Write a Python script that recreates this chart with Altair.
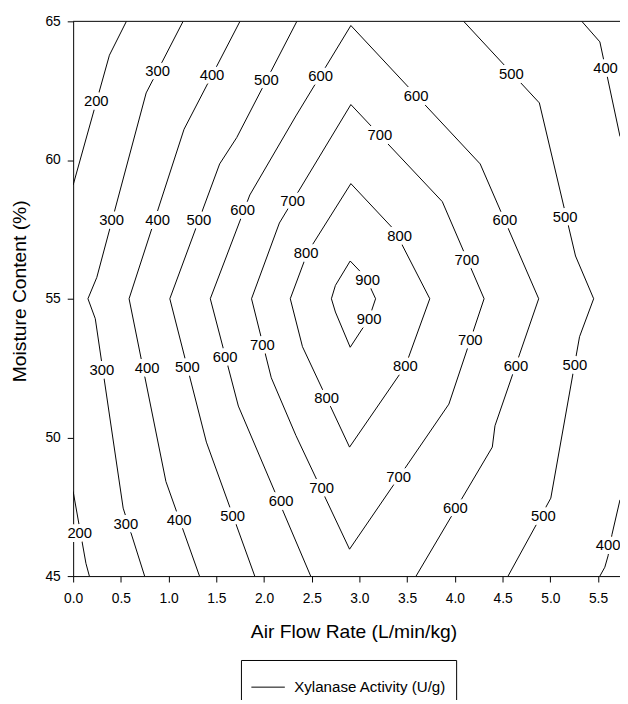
import altair as alt
import pandas as pd

FONT = "Liberation Sans"
SERIES = "Xylanase Activity (U/g)"

# ---- contour polylines (x = air flow rate, y = moisture content) ----
c200a_x = [0.558, 0.380, 0.0]
c200a_y = [65.0, 63.78, 59.1]
c200b_x = [0.0, 0.134, 0.170]
c200b_y = [48.05, 45.46, 45.0]
c300_x = [1.152, 0.765, 0.248, 0.155, 0.232, 0.524, 0.749]
c300_y = [65.0, 62.42, 55.77, 55.0, 54.28, 47.45, 45.0]
c400_x = [1.748, 1.162, 0.586, 0.972, 1.324]
c400_y = [65.0, 61.11, 55.0, 48.41, 45.0]
c500_x = [2.344, 1.714, 1.535, 1.013, 1.396, 1.903]
c500_y = [65.0, 60.81, 59.86, 55.0, 49.83, 45.0]
c600_x = [2.489, 1.731, 1.437, 1.851, 2.334, 2.910, 4.265, 4.878, 4.420, 4.392, 3.593]
c600_y = [45.0, 51.13, 55.0, 58.74, 61.59, 64.85, 59.86, 55.0, 50.42, 49.65, 45.0]
c700_x = [2.910, 3.868, 4.306, 3.937, 2.896, 2.334, 2.076, 1.869, 2.161, 2.910]
c700_y = [62.0, 58.50, 55.0, 51.20, 45.97, 50.07, 52.15, 55.0, 57.73, 62.0]
c800_x = [2.910, 3.368, 3.737, 3.482, 2.896, 2.403, 2.275, 2.455, 2.910]
c800_y = [59.15, 57.47, 55.0, 52.58, 49.65, 53.27, 55.0, 56.66, 59.15]
c900_x = [2.903, 3.064, 3.169, 3.099, 2.903, 2.748, 2.706, 2.748, 2.903]
c900_y = [56.36, 55.78, 55.0, 54.28, 53.25, 54.52, 55.0, 55.48, 56.36]
c500r_x = [4.092, 4.885, 5.264, 5.454, 5.306, 5.005, 4.557]
c500r_y = [65.0, 62.06, 56.54, 55.0, 53.63, 47.81, 45.0]
c400ra_x = [5.330, 5.519, 5.73]
c400ra_y = [65.0, 64.26, 60.85]
c400rb_x = [5.73, 5.646, 5.605, 5.571, 5.519]
c400rb_y = [47.75, 46.50, 45.73, 45.32, 45.0]

# ---- contour labels ----
lab_x = [0.242, 0.886, 1.455, 2.024, 2.593, 3.593, 4.592, 5.578, 3.213,
         0.403, 0.886, 1.317, 1.776, 2.300, 2.440, 3.420, 3.086, 3.102,
         3.482, 2.655, 4.126, 4.523, 5.154, 4.161, 4.640, 5.257, 3.410,
         2.603, 4.006, 4.926, 5.605, 0.300, 0.776, 1.196, 1.593, 1.982,
         0.069, 0.552, 1.111, 1.672, 2.179]
lab_y = [62.12, 63.19, 63.07, 62.89, 63.03, 62.32, 63.09, 63.31, 60.90,
         57.85, 57.85, 57.85, 58.20, 58.52, 56.66, 57.25, 55.67, 54.28,
         52.58, 51.41, 56.39, 57.82, 57.96, 53.51, 52.58, 52.62, 48.58,
         48.17, 47.45, 47.18, 46.13, 52.44, 52.50, 52.54, 52.89, 53.33,
         46.54, 46.88, 47.02, 47.18, 47.69]
lab_t = [200, 300, 400, 500, 600, 600, 500, 400, 700,
         300, 400, 500, 600, 700, 800, 800, 900, 900,
         800, 800, 700, 600, 500, 700, 600, 500, 700,
         700, 600, 500, 400, 300, 400, 500, 600, 700,
         200, 300, 400, 500, 600]

x_ticks = [0.0, 0.5, 1.0, 1.5, 2.0, 2.5, 3.0, 3.5, 4.0, 4.5, 5.0, 5.5]
y_ticks = [45, 50, 55, 60, 65]

pieces = [
    ("200a", c200a_x, c200a_y), ("200b", c200b_x, c200b_y),
    ("300", c300_x, c300_y), ("400", c400_x, c400_y),
    ("500", c500_x, c500_y), ("600", c600_x, c600_y),
    ("700", c700_x, c700_y), ("800", c800_x, c800_y),
    ("900", c900_x, c900_y), ("500r", c500r_x, c500r_y),
    ("400ra", c400ra_x, c400ra_y), ("400rb", c400rb_x, c400rb_y),
]
rows = []
for name, xs, ys in pieces:
    for i, (xv, yv) in enumerate(zip(xs, ys)):
        rows.append({"piece": name, "order": i, "x": xv, "y": yv, "series": SERIES})
df_lines = pd.DataFrame(rows)
df_labels = pd.DataFrame({"x": lab_x, "y": lab_y, "t": [str(v) for v in lab_t]})

xscale = alt.Scale(domain=[0, 5.73], nice=False, zero=False)
yscale = alt.Scale(domain=[45, 65], nice=False, zero=False)

xaxis = alt.Axis(values=x_ticks, format=".1f", title="Air Flow Rate (L/min/kg)",
                 labelFlush=False, labelPadding=10, tickSize=6,
                 titleX=284, titleY=56, titleBaseline="middle", titleAlign="center")
yaxis = alt.Axis(values=y_ticks, format="d", title="Moisture Content (%)",
                 labelPadding=7, tickSize=6,
                 titleX=-54, titleY=273, titleAngle=270,
                 titleBaseline="middle", titleAlign="center")

lines = alt.Chart(df_lines).mark_line(strokeWidth=1, clip=True).encode(
    x=alt.X("x:Q", scale=xscale, axis=xaxis),
    y=alt.Y("y:Q", scale=yscale, axis=yaxis),
    detail="piece:N",
    order="order:Q",
    stroke=alt.Stroke("series:N", scale=alt.Scale(range=["black"]),
                      legend=alt.Legend(orient="none", legendX=170, legendY=647,
                                        title=None, symbolType="stroke",
                                        symbolSize=1150, symbolStrokeWidth=1,
                                        labelFont=FONT, labelFontSize=15.3,
                                        labelColor="black", labelOffset=9,
                                        labelLimit=400, padding=10,
                                        strokeColor="black", fillColor="white")),
)

top = alt.Chart(pd.DataFrame({"t": [65]})).mark_rule(color="black", strokeWidth=1).encode(
    y=alt.datum(65)
)

halo = alt.Chart(df_labels).mark_text(font=FONT, fontSize=15, fill="white",
                                      stroke="white", strokeWidth=8,
                                      strokeJoin="round").encode(
    x="x:Q", y="y:Q", text="t:N"
)
labels = alt.Chart(df_labels).mark_text(font=FONT, fontSize=15, color="black").encode(
    x="x:Q", y="y:Q", text="t:N"
)

chart = alt.layer(lines, top, halo, labels).properties(
    width=554, height=562,
    autosize=alt.AutoSizeParams(type="none"),
    padding={"left": 66, "top": 9, "right": 0, "bottom": 121},
    background="white",
).configure_view(strokeWidth=0).configure_axis(
    grid=False, domainColor="black", tickColor="black", labelColor="black",
    labelFont=FONT, labelFontSize=14, titleFont=FONT, titleFontSize=19.5,
    titleFontWeight="normal", titleColor="black", domainWidth=1, tickWidth=1,
)

chart.save("out.html", embed_options={"renderer": "svg", "actions": False})
